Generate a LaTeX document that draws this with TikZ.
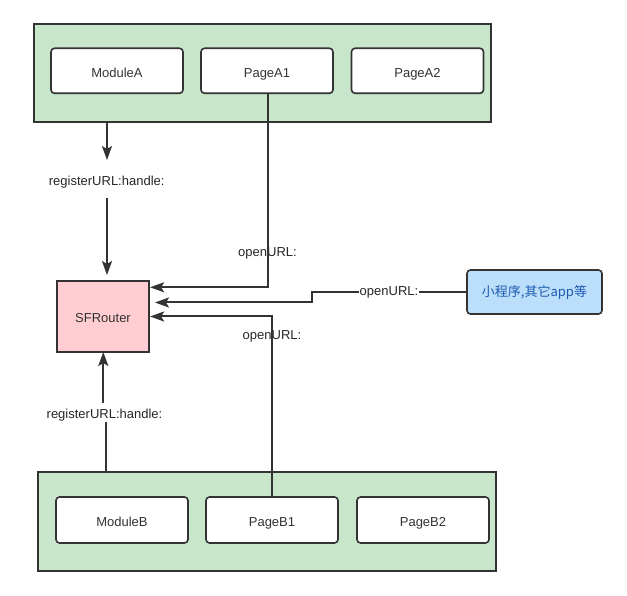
\documentclass[tikz,border=0pt]{standalone}
\usepackage{fontspec}
\setmainfont{Liberation Sans}
\newfontfamily\cjk{Noto Sans CJK SC}
\usetikzlibrary{arrows.meta,positioning}
\definecolor{grpgreen}{HTML}{C8E6C9}
\definecolor{rpink}{HTML}{FFCDD2}
\definecolor{lblue}{HTML}{BBDEFB}
\definecolor{tblue}{HTML}{1E5AAF}
\definecolor{dk}{HTML}{333333}
\tikzset{
  grp/.style={draw=dk,line width=2.2pt,fill=grpgreen},
  item/.style={draw=dk,line width=1.6pt,fill=white,rounded corners=3.5pt,
    minimum width=132pt,minimum height=45pt,font=\fontsize{13}{15}\selectfont,text=black!80,
    text height=13pt,text depth=0pt},
  router/.style={draw=dk,line width=2.2pt,fill=rpink,minimum width=92pt,minimum height=71pt,
    font=\fontsize{13}{15}\selectfont,text=black!80,text height=12pt,text depth=0pt},
  ext/.style={draw=dk,line width=1.6pt,fill=lblue,rounded corners=3.5pt,
    minimum width=135pt,minimum height=44pt,font=\cjk\fontsize{13}{15}\selectfont,text=tblue},
  lbl/.style={font=\fontsize{13}{15}\selectfont,text=black!85,inner sep=1pt},
  arr/.style={draw=dk,line width=2pt,-{Stealth[length=14pt,width=10pt,inset=3pt]}},
  ln/.style={draw=dk,line width=2pt}
}
\begin{document}
\begin{tikzpicture}[x=1pt,y=-1pt]
\useasboundingbox (0,0) rectangle (627,596);
% groups
\node[grp,minimum width=457pt,minimum height=98pt] (grpA) at (262.5,73) {};
\node[grp,minimum width=458pt,minimum height=99pt] (grpB) at (267,521.5) {};
% items
\node[item] (ModuleA) at (117,70.8) {ModuleA};
\node[item] (PageA1) at (267,70.8) {PageA1};
\node[item] (PageA2) at (417.5,70.8) {PageA2};
\node[item,minimum height=46pt] (ModuleB) at (122,520) {ModuleB};
\node[item,minimum height=46pt] (PageB1) at (272,520) {PageB1};
\node[item,minimum height=46pt] (PageB2) at (423,520) {PageB2};
\node[router] (SFRouter) at (103,316.5) {SFRouter};
\node[ext] (ext) at (534.5,292) {小程序,其它app等};
% labels
\node[lbl] (regA) at (106.7,182) {registerURL:handle:};
\node[lbl] (regB) at (104.5,415) {registerURL:handle:};
\node[lbl] (openA) at (267.5,253) {openURL:};
\node[lbl] (openB) at (272,336) {openURL:};
% coordinates
\coordinate (aTop) at (107,122);
\coordinate (aTip) at (107,160);
\coordinate (aMid) at (107,198);
\coordinate (aEnd) at (107,275);
\coordinate (bBot) at (106,473);
\coordinate (bMid) at (106,422);
\coordinate (bUp) at (103.3,403);
\coordinate (bEnd) at (103.3,352);
\coordinate (k1) at (311.5,302.5);
\coordinate (k2) at (155,302.5);
\coordinate (pA) at (267.7,287.3);
% connectors
\draw[arr] (aTop) -- (aTip);
\draw[arr] (aMid) -- (aEnd);
\draw[ln] (bBot) -- (bMid);
\draw[arr] (bUp) -- (bEnd);
\draw[arr] (PageA1.south -| pA) -- (pA) -- (pA -| SFRouter.east);
\draw[arr] (PageB1.north) |- (SFRouter.east);
\draw[arr] (ext.west) -| (k1) -- (k2);
\node[lbl,fill=white] (openX) at (389,292) {openURL:};
\end{tikzpicture}
\end{document}
